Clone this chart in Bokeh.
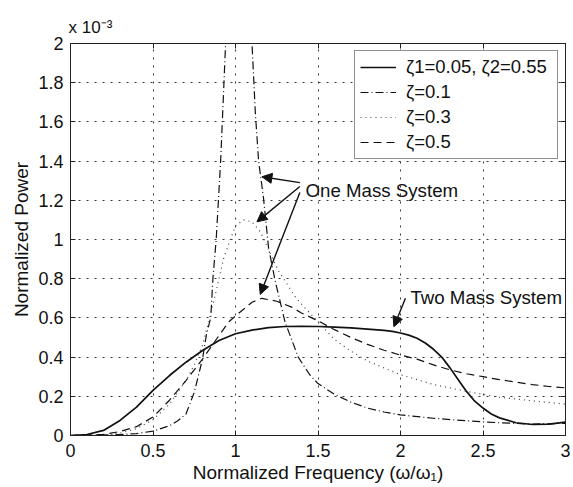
from bokeh.plotting import figure
from bokeh.models import (Label, Arrow, NormalHead, Legend, LegendItem, LinearAxis,
                          FixedTicker, Range1d)
from bokeh.embed import file_html
from bokeh.resources import INLINE

# ---------------- data (normalized power in units of 1e-3) ----------------
two_mass_x = [0, 0.1, 0.2, 0.3, 0.4, 0.5, 0.6, 0.7, 0.8, 0.9, 1.0, 1.1, 1.2, 1.3, 1.4,
              1.5, 1.6, 1.7, 1.8, 1.9, 1.95, 2.0, 2.05, 2.1, 2.15, 2.2, 2.25, 2.3, 2.35, 2.4,
              2.45, 2.5, 2.55, 2.6, 2.7, 2.8, 2.9, 3.0]
two_mass_y = [0, 0.005, 0.026, 0.077, 0.145, 0.23, 0.306, 0.374, 0.434, 0.485, 0.519,
              0.538, 0.55, 0.556, 0.557, 0.556, 0.553, 0.549, 0.543, 0.536, 0.531, 0.523,
              0.512, 0.496, 0.472, 0.44, 0.40, 0.345, 0.285, 0.225, 0.175, 0.14, 0.11,
              0.09, 0.065, 0.056, 0.058, 0.068]

z01_x = [0, 0.1, 0.2, 0.3, 0.4, 0.5, 0.6, 0.65, 0.7, 0.75, 0.8, 0.825, 0.85, 0.863,
         0.883, 0.91, 0.94, 0.97, 1.0, 1.04, 1.08, 1.1, 1.12, 1.14, 1.17, 1.2, 1.24,
         1.3, 1.38, 1.45, 1.5, 1.6, 1.7, 1.8, 1.9, 2.0, 2.2, 2.4, 2.6, 2.8, 3.0]
z01_y = [0, 0.0005, 0.002, 0.005, 0.01, 0.022, 0.05, 0.075, 0.11, 0.22, 0.39, 0.52,
         0.6, 0.8, 1.0, 1.4, 2.0, 2.6, 3.2, 3.2, 2.4, 2.0, 1.65, 1.4, 1.21, 0.96, 0.79,
         0.58, 0.4, 0.31, 0.265, 0.21, 0.17, 0.14, 0.12, 0.105, 0.088, 0.075, 0.065,
         0.058, 0.062]

z03_x = [0, 0.2, 0.3, 0.4, 0.5, 0.6, 0.7, 0.75, 0.8, 0.85, 0.9, 0.93, 0.96, 1.0, 1.05,
         1.1, 1.15, 1.2, 1.26, 1.3, 1.36, 1.4, 1.5, 1.6, 1.7, 1.8, 1.9, 2.0, 2.2, 2.4,
         2.6, 2.8, 3.0]
z03_y = [0, 0.003, 0.012, 0.035, 0.08, 0.16, 0.28, 0.36, 0.46, 0.62, 0.8, 0.91, 0.98,
         1.07, 1.1, 1.09, 1.04, 0.95, 0.84, 0.79, 0.71, 0.67, 0.58, 0.49, 0.43, 0.38,
         0.345, 0.31, 0.26, 0.225, 0.195, 0.177, 0.16]

z05_x = [0, 0.2, 0.3, 0.4, 0.5, 0.6, 0.7, 0.8, 0.9, 0.96, 1.0, 1.1, 1.16, 1.25, 1.34,
         1.4, 1.5, 1.6, 1.7, 1.8, 1.9, 2.0, 2.1, 2.2, 2.3, 2.4, 2.5, 2.6, 2.7, 2.8, 2.9,
         3.0]
z05_y = [0, 0.006, 0.02, 0.045, 0.094, 0.18, 0.28, 0.39, 0.51, 0.58, 0.61, 0.68, 0.70,
         0.685, 0.655, 0.625, 0.585, 0.54, 0.50, 0.465, 0.435, 0.41, 0.39, 0.36, 0.335,
         0.315, 0.30, 0.285, 0.272, 0.26, 0.25, 0.243]

legend_labels = ["ζ1=0.05, ζ2=0.55", "ζ=0.1", "ζ=0.3", "ζ=0.5"]

x_ticks = [0, 0.5, 1, 1.5, 2, 2.5, 3]
x_tick_labels = ["0", "0.5", "1", "1.5", "2", "2.5", "3"]
y_ticks = [0, 0.2, 0.4, 0.6, 0.8, 1.0, 1.2, 1.4, 1.6, 1.8, 2.0]
y_tick_labels = ["0", "0.2", "0.4", "0.6", "0.8", "1", "1.2", "1.4", "1.6", "1.8", "2"]

# annotation arrows (data coords): start -> tip
one_mass_start_x = [1.39, 1.39, 1.39]
one_mass_start_y = [1.29, 1.27, 1.24]
one_mass_tip_x = [1.16, 1.13, 1.15]
one_mass_tip_y = [1.32, 1.09, 0.72]
two_mass_arrow = (2.03, 0.70, 1.96, 0.555)

FONT = "Liberation Sans"
INK = "#111111"

p = figure(width=573, height=487, output_backend="svg", toolbar_location=None,
           x_range=Range1d(0, 3), y_range=Range1d(0, 2),
           min_border_left=70, min_border_right=8, min_border_top=43, min_border_bottom=52)
p.background_fill_color = "white"
p.border_fill_color = "white"
p.outline_line_color = "#222222"
p.outline_line_width = 1

# exponent shown as a title above the y axis
p.title.text = "x 10⁻³"
p.title.align = "left"
p.title.offset = -2
p.title.standoff = 14
p.title.text_font = FONT
p.title.text_font_size = "17px"
p.title.text_font_style = "normal"
p.title.text_color = INK

# axes
xt = FixedTicker(ticks=x_ticks)
yt = FixedTicker(ticks=y_ticks)
for ax in p.xaxis:
    ax.ticker = xt
    ax.major_label_overrides = dict(zip(x_ticks, x_tick_labels))
for ax in p.yaxis:
    ax.ticker = yt
    ax.major_label_overrides = dict(zip(y_ticks, y_tick_labels))

for ax in list(p.xaxis) + list(p.yaxis):
    ax.major_tick_in = 5
    ax.major_tick_out = 0
    ax.minor_tick_line_color = None
    ax.axis_line_color = "#222222"
    ax.major_tick_line_color = "#222222"
    ax.major_label_text_font = FONT
    ax.major_label_text_font_size = "18px"
    ax.major_label_text_color = INK
    ax.axis_label_text_font = FONT
    ax.axis_label_text_font_size = "19px"
    ax.axis_label_text_font_style = "normal"
    ax.axis_label_text_color = INK

p.xaxis.major_label_standoff = 8
p.yaxis.major_label_standoff = 7
p.xaxis.axis_label = "Normalized Frequency (ω/ω₁)"
p.xaxis.axis_label_standoff = 2
p.yaxis.axis_label = "Normalized Power"
p.yaxis.axis_label_standoff = 3

top_ax = LinearAxis(ticker=xt, major_tick_in=5, major_tick_out=0,
                    minor_tick_line_color=None, major_label_text_color=None,
                    axis_line_color="#222222", major_tick_line_color="#222222")
right_ax = LinearAxis(ticker=yt, major_tick_in=5, major_tick_out=0,
                      minor_tick_line_color=None, major_label_text_color=None,
                      axis_line_color="#222222", major_tick_line_color="#222222")
p.add_layout(top_ax, "above")
p.add_layout(right_ax, "right")

# grid
for g in (p.xgrid, p.ygrid):
    g.grid_line_color = "#222222"
    g.grid_line_dash = "2 6"
    g.grid_line_width = 1
    g.grid_line_alpha = 0.9
p.xgrid.ticker = xt
p.ygrid.ticker = yt

# curves
r1 = p.line(two_mass_x, two_mass_y, line_color=INK, line_width=1.7)
r2 = p.line(z01_x, z01_y, line_color=INK, line_width=1.2, line_dash="8 3 1 3")
r3 = p.line(z03_x, z03_y, line_color="#444444", line_width=1.2, line_dash="1 4")
r4 = p.line(z05_x, z05_y, line_color=INK, line_width=1.2, line_dash="8 5")

legend = Legend(items=[LegendItem(label=legend_labels[0], renderers=[r1]),
                       LegendItem(label=legend_labels[1], renderers=[r2]),
                       LegendItem(label=legend_labels[2], renderers=[r3]),
                       LegendItem(label=legend_labels[3], renderers=[r4])],
                location="top_right", orientation="vertical",
                padding=5, spacing=3, margin=7,
                glyph_width=36, glyph_height=20, label_height=20,
                label_width=146, label_standoff=10,
                label_text_font=FONT, label_text_font_size="18.5px",
                label_text_color=INK,
                border_line_color="#222222", border_line_width=1,
                background_fill_color="white", background_fill_alpha=1)
p.add_layout(legend)

# annotations
for xs, ys, xe, ye in zip(one_mass_start_x, one_mass_start_y, one_mass_tip_x, one_mass_tip_y):
    p.add_layout(Arrow(end=NormalHead(size=10, fill_color=INK, line_color=INK),
                       x_start=xs, y_start=ys, x_end=xe, y_end=ye,
                       line_color=INK, line_width=1.4))
xs, ys, xe, ye = two_mass_arrow
p.add_layout(Arrow(end=NormalHead(size=10, fill_color=INK, line_color=INK),
                   x_start=xs, y_start=ys, x_end=xe, y_end=ye,
                   line_color=INK, line_width=1.4))

p.add_layout(Label(x=1.424, y=1.25, text="One Mass System", text_baseline="middle",
                   text_font=FONT, text_font_size="18.7px", text_color=INK))
p.add_layout(Label(x=2.06, y=0.704, text="Two Mass System", text_baseline="middle",
                   text_font=FONT, text_font_size="18.7px", text_color=INK))

open("out.html", "w").write(file_html(p, INLINE))
